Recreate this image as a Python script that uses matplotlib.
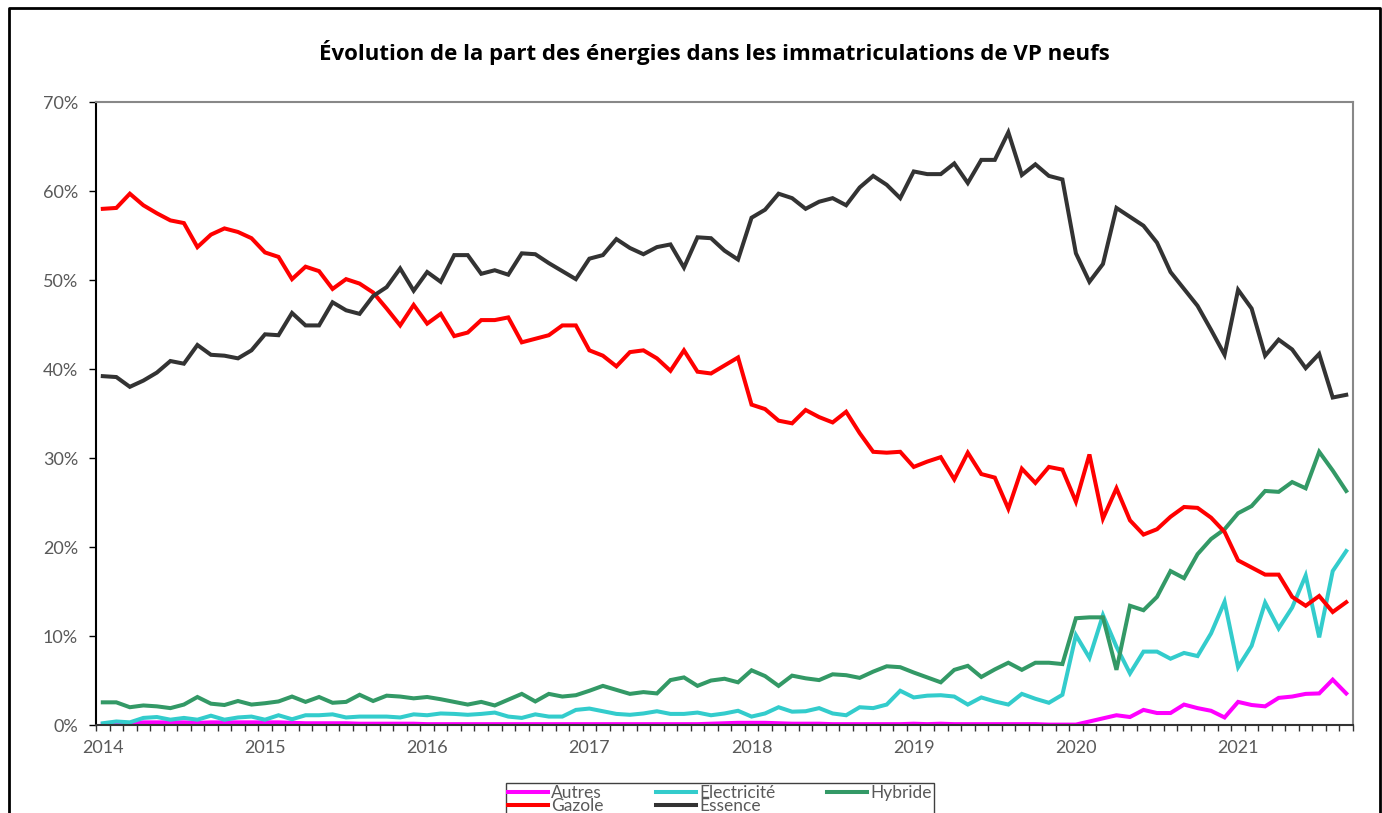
import matplotlib
matplotlib.use("Agg")
import matplotlib.pyplot as plt
from matplotlib.lines import Line2D
from matplotlib.ticker import FixedLocator, MultipleLocator, FuncFormatter

plt.rcParams['font.family'] = ['Lato', 'DejaVu Sans']

# monthly shares (%), Jan 2014 -> Sep 2021
years = ['2014', '2015', '2016', '2017', '2018', '2019', '2020', '2021']

autres = [0.1, 0.15, 0.2, 0.3, 0.3, 0.3, 0.3, 0.25, 0.3, 0.3, 0.3, 0.3,
          0.3, 0.3, 0.25, 0.2, 0.2, 0.2, 0.2, 0.15, 0.15, 0.15, 0.15, 0.15,
          0.1, 0.1, 0.1, 0.1, 0.1, 0.1, 0.1, 0.1, 0.1, 0.1, 0.1, 0.1,
          0.1, 0.1, 0.1, 0.1, 0.1, 0.1, 0.1, 0.1, 0.1, 0.15, 0.2, 0.25,
          0.25, 0.25, 0.2, 0.15, 0.15, 0.15, 0.1, 0.1, 0.1, 0.1, 0.1, 0.1,
          0.15, 0.1, 0.15, 0.1, 0.1, 0.1, 0.1, 0.1, 0.1, 0.1, 0.05, 0.05,
          0.05, 0.4, 0.75, 1.1, 0.9, 1.7, 1.35, 1.35, 2.3, 1.9, 1.6, 0.85,
          2.6, 2.25, 2.1, 3.05, 3.2, 3.5, 3.55, 5.1, 3.55]

electricite = [0.2, 0.4, 0.3, 0.8, 0.9, 0.6, 0.8, 0.6, 1.05, 0.6, 0.85, 0.95,
               0.6, 1.1, 0.65, 1.1, 1.1, 1.2, 0.85, 0.95, 0.95, 0.95, 0.85, 1.2,
               1.1, 1.3, 1.25, 1.15, 1.25, 1.4, 0.95, 0.8, 1.2, 0.95, 0.95, 1.7,
               1.85, 1.55, 1.25, 1.15, 1.3, 1.55, 1.25, 1.25, 1.4, 1.1, 1.3, 1.6,
               0.95, 1.3, 2.0, 1.5, 1.55, 1.9, 1.3, 1.1, 2.0, 1.9, 2.3, 3.85,
               3.1, 3.3, 3.35, 3.2, 2.3, 3.1, 2.65, 2.3, 3.5, 2.95, 2.5, 3.4,
               10.1, 7.55, 12.35, 8.8, 5.8, 8.25, 8.25, 7.45, 8.1, 7.75, 10.3, 13.85,
               6.5, 8.9, 13.75, 10.85, 13.2, 16.8, 9.85, 17.3, 19.55]

hybride = [2.55, 2.55, 2.0, 2.2, 2.1, 1.9, 2.3, 3.15, 2.4, 2.25, 2.7, 2.3,
           2.45, 2.65, 3.2, 2.6, 3.15, 2.5, 2.6, 3.4, 2.7, 3.3, 3.2, 3.0,
           3.15, 2.9, 2.6, 2.3, 2.6, 2.2, 2.85, 3.5, 2.65, 3.5, 3.2, 3.35,
           3.85, 4.4, 3.95, 3.5, 3.7, 3.55, 5.05, 5.35, 4.4, 5.0, 5.2, 4.8,
           6.15, 5.5, 4.4, 5.55, 5.25, 5.05, 5.7, 5.6, 5.3, 6.0, 6.6, 6.5,
           5.9, 5.35, 4.8, 6.2, 6.65, 5.4, 6.25, 7.0, 6.2, 7.0, 7.0, 6.85,
           12.0, 12.1, 12.1, 6.2, 13.4, 12.9, 14.4, 17.3, 16.5, 19.2, 20.9, 22.0,
           23.8, 24.6, 26.3, 26.2, 27.3, 26.6, 30.7, 28.6, 26.3]

gazole = [58.0, 58.1, 59.7, 58.4, 57.5, 56.7, 56.4, 53.7, 55.1, 55.8, 55.4, 54.7,
          53.1, 52.6, 50.1, 51.5, 51.0, 49.0, 50.1, 49.6, 48.6, 46.8, 44.9, 47.2,
          45.1, 46.2, 43.7, 44.1, 45.5, 45.5, 45.8, 43.0, 43.4, 43.8, 44.9, 44.9,
          42.1, 41.5, 40.3, 41.9, 42.1, 41.2, 39.8, 42.1, 39.7, 39.5, 40.4, 41.3,
          36.0, 35.5, 34.2, 33.9, 35.4, 34.6, 34.0, 35.2, 32.8, 30.7, 30.6, 30.7,
          29.0, 29.6, 30.1, 27.6, 30.6, 28.2, 27.8, 24.3, 28.8, 27.2, 29.0, 28.7,
          25.1, 30.4, 23.2, 26.6, 23.0, 21.4, 22.0, 23.4, 24.5, 24.4, 23.3, 21.7,
          18.5, 17.7, 16.9, 16.9, 14.4, 13.4, 14.5, 12.7, 13.8]

essence = [39.2, 39.1, 38.0, 38.7, 39.6, 40.9, 40.6, 42.7, 41.6, 41.5, 41.2, 42.1,
           43.9, 43.8, 46.3, 44.9, 44.9, 47.5, 46.6, 46.2, 48.2, 49.2, 51.3, 48.8,
           50.9, 49.8, 52.8, 52.8, 50.7, 51.1, 50.6, 53.0, 52.9, 51.9, 51.0, 50.1,
           52.4, 52.8, 54.6, 53.6, 52.9, 53.7, 54.0, 51.4, 54.8, 54.7, 53.3, 52.3,
           57.0, 57.9, 59.7, 59.2, 58.0, 58.8, 59.2, 58.4, 60.4, 61.7, 60.7, 59.2,
           62.2, 61.9, 61.9, 63.1, 60.9, 63.5, 63.5, 66.6, 61.8, 63.0, 61.7, 61.3,
           53.0, 49.8, 51.8, 58.1, 57.1, 56.1, 54.2, 50.9, 49.0, 47.1, 44.4, 41.6,
           48.9, 46.8, 41.5, 43.3, 42.2, 40.1, 41.7, 36.8, 37.1]

series = [
    ('Autres', autres, '#FF00FF'),
    ('Electricité', electricite, '#33CCCC'),
    ('Hybride', hybride, '#339966'),
    ('Gazole', gazole, '#FF0000'),
    ('Essence', essence, '#333333'),
]

TXT = '#595959'

fig = plt.figure(figsize=(13.82, 8.13), dpi=100)
ax = fig.add_axes([0.0695, 0.1082, 0.9095, 0.7663])

x = list(range(len(essence)))
lines = {}
for name, vals, col in series:
    lines[name], = ax.plot(x, vals, color=col, lw=2.9, solid_joinstyle='miter', label=name)

ax.set_xlim(-0.5, len(x) - 0.5)
ax.set_ylim(0, 70)

ax.yaxis.set_major_locator(MultipleLocator(10))
ax.yaxis.set_major_formatter(FuncFormatter(lambda v, p: f'{int(v)}%'))
ax.tick_params(axis='y', direction='out', length=5, width=1, pad=8,
               labelsize=13, labelcolor=TXT, color='#000000')

ax.xaxis.set_major_locator(FixedLocator([12 * k for k in range(len(years))]))
ax.set_xticklabels(years)
ax.xaxis.set_minor_locator(FixedLocator([i - 0.5 for i in range(len(x) + 1)]))
ax.tick_params(axis='x', which='major', length=0, pad=11, labelsize=13, labelcolor=TXT)
ax.tick_params(axis='x', which='minor', direction='out', length=4, width=1, color='#333333')

ax.spines['left'].set_color('#000000')
ax.spines['left'].set_linewidth(1.5)
ax.spines['bottom'].set_color('#333333')
ax.spines['bottom'].set_linewidth(1.5)
for s in ('top', 'right'):
    ax.spines[s].set_color('#888888')
    ax.spines[s].set_linewidth(1.5)

fig.text(0.517, 0.936, 'Évolution de la part des énergies dans les immatriculations de VP neufs',
         ha='center', va='center', fontsize=16, fontweight='bold', color='#000000',
         family=['Open Sans', 'DejaVu Sans'])

order = ['Autres', 'Gazole', 'Electricité', 'Essence', 'Hybride']
leg = fig.legend([lines[n] for n in order], order, loc='upper center',
                 bbox_to_anchor=(0.521, 0.0369), bbox_transform=fig.transFigure,
                 ncol=3, fontsize=12.5, frameon=True, fancybox=False, framealpha=1,
                 edgecolor='#404040', borderpad=0.1, labelspacing=-0.15,
                 handlelength=2.3, handletextpad=0.2, columnspacing=3.0,
                 borderaxespad=0)
leg.get_frame().set_linewidth(1.0)
for t in leg.get_texts():
    t.set_color(TXT)

# outer frame of the chart
y_top = 1 - 8 / 813
x0, x1 = 9 / 1382, 1380 / 1382
fig.add_artist(Line2D([x0, x0, x1, x1], [-0.05, y_top, y_top, -0.05],
                      transform=fig.transFigure, color='#000000', lw=2))

fig.savefig('out.png', dpi=100)
